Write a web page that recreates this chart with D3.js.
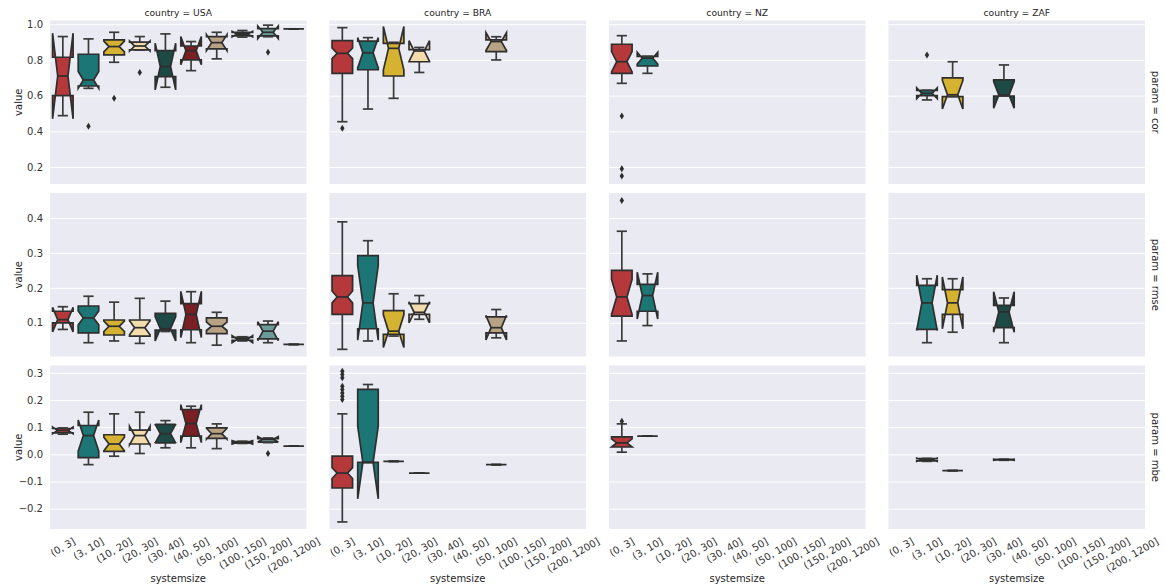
<!DOCTYPE html>
<html><head><meta charset="utf-8">
<script src="https://cdn.jsdelivr.net/npm/d3@7/dist/d3.min.js"></script>
<style>body{margin:0;background:#fff} text{font-family:"DejaVu Sans",sans-serif;fill:#262626}</style>
</head><body><svg id="c" width="1166" height="588"></svg>
<script>
const categories = ["(0, 3]","(3, 10]","(10, 20]","(20, 30]","(30, 40]","(40, 50]","(50, 100]","(100, 150]","(150, 200]","(200, 1200]"];
const countries = ["USA","BRA","NZ","ZAF"];
const params = ["cor","rmse","mbe"];
const palette = ["#b5393b","#1c7676","#d6b231","#f3dbab","#1e4a46","#7a1f24","#b8a284","#2e3c39","#6c9c99","#8a8a8a"];
const ticksCor = [0.2,0.4,0.6,0.8,1.0];
const ticksRmse = [0.1,0.2,0.3,0.4];
const ticksMbe = [-0.2,-0.1,0.0,0.1,0.2,0.3];

// box stats: [categoryIndex, whiskerLow, q1, median, q3, whiskerHigh, notchHalf]
const corUSA = [
 [0,0.488,0.600,0.710,0.815,0.931,0.240],
 [1,0.641,0.654,0.688,0.832,0.918,0.047],
 [2,0.787,0.828,0.875,0.912,0.955,0.030],
 [3,0.855,0.856,0.878,0.900,0.931,0.028],
 [4,0.647,0.707,0.763,0.852,0.946,0.131],
 [5,0.740,0.800,0.852,0.878,0.903,0.079],
 [6,0.806,0.862,0.897,0.931,0.955,0.045],
 [7,0.928,0.935,0.945,0.955,0.965,0.015],
 [8,0.930,0.935,0.955,0.975,0.995,0.035],
 [9,0.974,0.974,0.974,0.974,0.974,0]
];
const corUSAOut = [[1,0.429],[2,0.585],[3,0.729],[8,0.843]];
const corBRA = [
 [0,0.454,0.725,0.837,0.908,0.981,0.030],
 [1,0.525,0.745,0.840,0.905,0.925,0.085],
 [2,0.585,0.710,0.865,0.893,0.899,0.122],
 [3,0.730,0.790,0.850,0.858,0.870,0.058],
 [6,0.800,0.847,0.903,0.912,0.930,0.050]
];
const corBRAOut = [[0,0.417]];
const corNZ = [
 [0,0.669,0.725,0.790,0.888,0.936,0.057],
 [1,0.725,0.766,0.810,0.820,0.820,0.033]
];
const corNZOut = [[0,0.486],[0,0.19],[0,0.15]];
const corZAF = [
 [1,0.576,0.600,0.613,0.630,0.630,0.030],
 [2,0.595,0.595,0.605,0.700,0.790,0.080],
 [4,0.598,0.598,0.604,0.688,0.772,0.075]
];
const corZAFOut = [[1,0.828]];

const rmseUSA = [
 [0,0.081,0.100,0.109,0.133,0.146,0.035],
 [1,0.043,0.071,0.114,0.148,0.176,0.020],
 [2,0.048,0.065,0.090,0.108,0.159,0.015],
 [3,0.041,0.062,0.086,0.108,0.170,0.020],
 [4,0.075,0.079,0.083,0.127,0.162,0.035],
 [5,0.043,0.080,0.124,0.155,0.189,0.066],
 [6,0.036,0.069,0.090,0.114,0.130,0.012],
 [7,0.048,0.050,0.053,0.058,0.060,0.010],
 [8,0.043,0.054,0.076,0.095,0.105,0.027],
 [9,0.038,0.038,0.038,0.038,0.038,0]
];
const rmseUSAOut = [];
const rmseBRA = [
 [0,0.024,0.124,0.174,0.235,0.389,0.017],
 [1,0.048,0.083,0.157,0.292,0.335,0.107],
 [2,0.062,0.067,0.076,0.135,0.183,0.047],
 [3,0.110,0.124,0.130,0.155,0.178,0.030],
 [6,0.057,0.071,0.086,0.117,0.138,0.035]
];
const rmseBRAOut = [];
const rmseNZ = [
 [0,0.048,0.119,0.174,0.250,0.362,0.050],
 [1,0.092,0.133,0.178,0.210,0.240,0.067]
];
const rmseNZOut = [[0,0.45]];
const rmseZAF = [
 [1,0.043,0.081,0.157,0.207,0.226,0.079],
 [2,0.073,0.124,0.157,0.195,0.226,0.074],
 [4,0.043,0.086,0.131,0.150,0.171,0.058]
];
const rmseZAFOut = [];

const mbeUSA = [
 [0,0.074,0.079,0.088,0.095,0.097,0.012],
 [1,-0.038,-0.012,0.069,0.106,0.155,0.057],
 [2,-0.007,0.011,0.038,0.072,0.149,0.025],
 [3,0.003,0.038,0.069,0.089,0.155,0.034],
 [4,0.024,0.042,0.076,0.110,0.124,0.035],
 [5,0.024,0.067,0.113,0.165,0.177,0.070],
 [6,0.021,0.059,0.076,0.097,0.112,0.020],
 [7,0.040,0.041,0.044,0.047,0.048,0.006],
 [8,0.043,0.045,0.055,0.058,0.060,0.010],
 [9,0.030,0.030,0.030,0.030,0.030,0]
];
const mbeUSAOut = [[8,0.003]];
const mbeBRA = [
 [0,-0.249,-0.124,-0.069,-0.007,0.149,0.020],
 [1,-0.030,-0.030,-0.030,0.239,0.257,0.134],
 [2,-0.026,-0.026,-0.026,-0.026,-0.026,0],
 [3,-0.069,-0.069,-0.069,-0.069,-0.069,0],
 [6,-0.038,-0.038,-0.038,-0.038,-0.038,0]
];
const mbeBRAOut = [[0,0.306],[0,0.294],[0,0.282],[0,0.251],[0,0.239],[0,0.226],[0,0.214],[0,0.202]];
const mbeNZ = [
 [0,0.008,0.027,0.042,0.064,0.112,0.015],
 [1,0.067,0.067,0.067,0.067,0.067,0]
];
const mbeNZOut = [[0,0.122]];
const mbeZAF = [
 [1,-0.026,-0.024,-0.020,-0.016,-0.015,0.006],
 [2,-0.060,-0.060,-0.060,-0.060,-0.060,0],
 [4,-0.022,-0.021,-0.020,-0.019,-0.018,0.002]
];
const mbeZAFOut = [];

const table = {
 cor:{USA:[corUSA,corUSAOut],BRA:[corBRA,corBRAOut],NZ:[corNZ,corNZOut],ZAF:[corZAF,corZAFOut]},
 rmse:{USA:[rmseUSA,rmseUSAOut],BRA:[rmseBRA,rmseBRAOut],NZ:[rmseNZ,rmseNZOut],ZAF:[rmseZAF,rmseZAFOut]},
 mbe:{USA:[mbeUSA,mbeUSAOut],BRA:[mbeBRA,mbeBRAOut],NZ:[mbeNZ,mbeNZOut],ZAF:[mbeZAF,mbeZAFOut]}
};
const rowTicks = {cor:ticksCor, rmse:ticksRmse, mbe:ticksMbe};
const rowDomains = {cor:[0.105,1.021], rmse:[0.0035,0.4715], mbe:[-0.275,0.327]};

const svg = d3.select("#c");
const colX = [50, 329.5, 609, 888.5], panelW = 256.5;
const rowY = [20.5, 193, 365.5], panelH = 163.5;
const lineCol = "#2e2e2e", lw = 1.7;
const fmt = v => (v<0 ? "\u2212" : "") + Math.abs(v).toFixed(1);

params.forEach((p, ri) => {
  const y = d3.scaleLinear().domain(rowDomains[p]).range([rowY[ri]+panelH, rowY[ri]]);
  countries.forEach((c, ci) => {
    const x = d3.scaleBand().domain(d3.range(categories.length)).range([colX[ci], colX[ci]+panelW]);
    const g = svg.append("g");
    g.append("rect").attr("x",colX[ci]).attr("y",rowY[ri]).attr("width",panelW).attr("height",panelH).attr("fill","#eaeaf2");
    const ax = g.append("g").attr("transform",`translate(${colX[ci]},0)`)
      .call(d3.axisLeft(y).tickValues(rowTicks[p]).tickSize(-panelW).tickFormat(ci===0?fmt:""));
    ax.select(".domain").remove();
    ax.selectAll(".tick line").attr("stroke","#ffffff").attr("stroke-width",1);
    ax.selectAll(".tick text").attr("x",-7).attr("font-size","10px").style("font-family","DejaVu Sans").style("fill","#333");
    const [boxes, outs] = table[p][c];
    const bw = x.bandwidth()*0.8;
    boxes.forEach(b => {
      const [ci2, wlo, q1, med, q3, whi, nh] = b;
      const cx = x(ci2) + x.bandwidth()/2;
      const L = cx-bw/2, R = cx+bw/2, cL = cx-bw/4, cR = cx+bw/4;
      const nlo = med-nh, nhi = med+nh;
      const pts = [[L,q1],[R,q1],[R,nlo],[cR,med],[R,nhi],[R,q3],[L,q3],[L,nhi],[cL,med],[L,nlo]];
      g.append("path").attr("d", "M" + pts.map(d=>`${d[0]},${y(d[1])}`).join("L") + "Z")
        .attr("fill", palette[ci2]).attr("stroke", lineCol).attr("stroke-width", lw).attr("stroke-linejoin","miter");
      [[q1,wlo],[q3,whi]].forEach(([a,bv]) => {
        g.append("line").attr("x1",cx).attr("x2",cx).attr("y1",y(a)).attr("y2",y(bv)).attr("stroke","#3a3a3a").attr("stroke-width",lw);
        g.append("line").attr("x1",cL).attr("x2",cR).attr("y1",y(bv)).attr("y2",y(bv)).attr("stroke","#3a3a3a").attr("stroke-width",lw);
      });
      g.append("line").attr("x1",cL).attr("x2",cR).attr("y1",y(med)).attr("y2",y(med)).attr("stroke",lineCol).attr("stroke-width",lw);
    });
    outs.forEach(o => {
      const cx = x(o[0]) + x.bandwidth()/2, cy = y(o[1]);
      g.append("path").attr("d",`M${cx},${cy-3.5}L${cx+2.2},${cy}L${cx},${cy+3.5}L${cx-2.2},${cy}Z`).attr("fill","#2e2e2e");
    });
    if (ri===0) {
      g.append("text").attr("x",colX[ci]+panelW/2).attr("y",15.5).attr("text-anchor","middle").attr("font-size","9.2px").text("country = "+c);
    }
    if (ri===2) {
      categories.forEach((lab,k) => {
        const cx = x(k)+x.bandwidth()/2;
        const t = g.append("text").attr("font-size","10px").attr("text-anchor","middle").attr("dominant-baseline","central").style("fill","#333").text(lab);
        const w = t.node().getComputedTextLength(), h = 10;
        const bh = w*Math.sin(Math.PI/6) + h*Math.cos(Math.PI/6);
        const top = rowY[2]+panelH+7;
        t.attr("transform",`translate(${cx},${top+bh/2}) rotate(-30)`);
      });
      g.append("text").attr("x",colX[ci]+panelW/2).attr("y",582).attr("text-anchor","middle").attr("font-size","10px").text("systemsize");
    }
    if (ci===0) {
      g.append("text").attr("transform",`translate(18,${rowY[ri]+panelH/2}) rotate(-90)`).attr("text-anchor","middle").attr("dominant-baseline","central").attr("font-size","10px").text("value");
    }
    if (ci===3) {
      g.append("text").attr("transform",`translate(1155,${rowY[ri]+panelH/2}) rotate(90)`).attr("text-anchor","middle").attr("dominant-baseline","central").attr("font-size","10px").text("param = "+p);
    }
  });
});
</script></body></html>
